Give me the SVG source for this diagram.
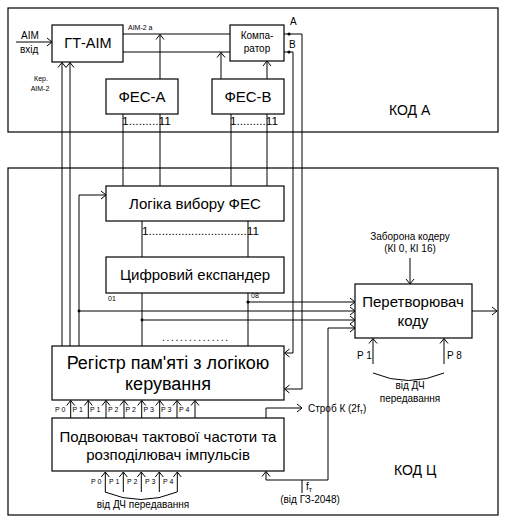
<svg xmlns="http://www.w3.org/2000/svg" width="505" height="523" viewBox="0 0 505 523">
<style>
.b{fill:#fff;stroke:#000;stroke-width:1.2}
.f{fill:none;stroke:#000;stroke-width:1.2}
.l{fill:none;stroke:#000;stroke-width:1}
.a{fill:none;stroke:#000;stroke-width:1;marker-end:url(#ah)}
text{font-family:"Liberation Sans",Arial,sans-serif;fill:#000}
.t15{font-size:15px;text-anchor:middle}
.t18{font-size:18px;text-anchor:middle}
.t14{font-size:14px}
.t10{font-size:10px}
.t10m{font-size:10px;text-anchor:middle}
.t7{font-size:7px}
.t7m{font-size:7px;text-anchor:middle}
</style>
<defs>
<marker id="ah" markerUnits="userSpaceOnUse" markerWidth="12" markerHeight="12" viewBox="-7 -6 8 12" refX="0" refY="0" orient="auto" overflow="visible">
<path d="M-5,-4 L0,0 L-5,4" fill="none" stroke="#000" stroke-width="1"/>
</marker>
</defs>
<rect width="505" height="523" fill="#fff"/>
<g id="regions">
<rect class="f" x="8" y="8" width="490" height="124"/>
<rect class="f" x="8" y="168" width="490" height="347"/>
<text class="t14" x="389" y="115">КОД А</text>
<text class="t14" x="394" y="475">КОД Ц</text>
</g>
<g id="connectors">
<path class="a" d="M16,42 H52"/>
<path class="l" d="M123,34 H230"/>
<path class="l" d="M123,52 H230"/>
<path class="a" d="M160,79 V34.5"/>
<path class="a" d="M221,79 V52.5"/>
<path class="a" d="M267,79 V61"/>
<path class="l" d="M123,114 V186"/>
<path class="l" d="M160,114 V186"/>
<path class="l" d="M231,114 V186"/>
<path class="l" d="M267,114 V186"/>
<path class="l" d="M284,34 H302 V389"/>
<path class="a" d="M302,389 H284.5"/>
<path class="l" d="M284,52 H293 V353"/>
<path class="a" d="M293,353 H284.5"/>
<path class="a" d="M62,346 V62.5"/>
<path class="a" d="M70,346 V62.5"/>
<path class="l" d="M79,346 V195"/>
<path class="a" d="M79,195 H106"/>
<path class="l" d="M142,221 V257"/>
<path class="l" d="M248,221 V257"/>
<path class="l" d="M142,293 V346"/>
<path class="l" d="M248,293 V346"/>
<path class="a" d="M248,302 H355"/>
<path class="a" d="M79,311 H355"/>
<path class="a" d="M142,320 H355"/>
<path class="l" d="M266,480 H328 V328"/>
<path class="a" d="M328,328 H355"/>
<path class="a" d="M266,480 V471.5"/>
<path class="l" d="M302,480 V493"/>
<path class="l" d="M266,418 V408"/>
<path class="a" d="M266,408 H302"/>
<path class="a" d="M410,258 V284"/>
<path class="a" d="M472,311 H497"/>
<path class="a" d="M373,364 V338.5"/>
<path class="a" d="M444,364 V338.5"/>
<path class="l" d="M373,373 Q408.5,388 444,373"/>
<path class="a" d="M70.7,418 V400.5"/>
<path class="a" d="M88.3,418 V400.5"/>
<path class="a" d="M106,418 V400.5"/>
<path class="a" d="M124,418 V400.5"/>
<path class="a" d="M141.7,418 V400.5"/>
<path class="a" d="M159.7,418 V400.5"/>
<path class="a" d="M177,418 V400.5"/>
<path class="a" d="M195,418 V400.5"/>
<path class="a" d="M105.3,492 V472"/>
<path class="a" d="M123.3,492 V472"/>
<path class="a" d="M141.3,492 V472"/>
<path class="a" d="M159.3,492 V472"/>
<path class="a" d="M177.3,492 V472"/>
<path class="l" d="M105,492 Q141,507 177,492"/>
<circle cx="289" cy="34" r="1.6"/>
<circle cx="289" cy="52" r="1.6"/>
<circle cx="248" cy="302" r="1.6"/>
<circle cx="79" cy="311" r="1.4"/>
<circle cx="142" cy="320" r="1.4"/>
</g>
<g id="gt-aim">
<rect class="b" x="52" y="25" width="71" height="37"/>
<text class="t15" x="88" y="48" style="font-size:14.5px">ГТ-АІМ</text>
</g>
<g id="comparator">
<rect class="b" x="230" y="25" width="54" height="36"/>
<text class="t10m" x="257" y="39">Компа-</text>
<text class="t10m" x="257" y="52">ратор</text>
</g>
<g id="fes-a">
<rect class="b" x="106" y="79" width="72" height="35"/>
<text class="t15" x="142" y="102">ФЕС-А</text>
</g>
<g id="fes-b">
<rect class="b" x="212" y="79" width="72" height="35"/>
<text class="t15" x="248" y="102">ФЕС-В</text>
</g>
<g id="logic">
<rect class="b" x="106" y="186" width="178" height="35"/>
<text class="t15" x="195" y="209">Логіка вибору ФЕС</text>
</g>
<g id="expander">
<rect class="b" x="106" y="257" width="178" height="36"/>
<text class="t15" x="195" y="280">Цифровий експандер</text>
</g>
<g id="register">
<rect class="b" x="52" y="346" width="232" height="54"/>
<text class="t18" x="168" y="369">Регістр пам'яті з логікою</text>
<text class="t18" x="168" y="390">керування</text>
</g>
<g id="doubler">
<rect class="b" x="52" y="418" width="232" height="53"/>
<text class="t15" x="168" y="442">Подвоювач тактової частоти та</text>
<text class="t15" x="168" y="460">розподілювач імпульсів</text>
</g>
<g id="converter">
<rect class="b" x="355" y="284" width="117" height="54"/>
<text class="t15" x="413" y="307">Перетворювач</text>
<text class="t15" x="413" y="326">коду</text>
</g>
<g id="labels">
<text class="t10" x="21" y="39">АІМ</text>
<text class="t10" x="20" y="53">вхід</text>
<text class="t7m" x="41" y="81">Кер.</text>
<text class="t7m" x="40" y="91">АІМ-2</text>
<text class="t7" x="128" y="30">АІМ-2 а</text>
<text class="t10" x="290" y="25">A</text>
<text class="t10" x="289" y="48">B</text>
<text class="t10" x="122" y="125" textLength="49" lengthAdjust="spacingAndGlyphs">1.........11</text>
<text class="t10" x="230" y="125" textLength="48" lengthAdjust="spacingAndGlyphs">1.........11</text>
<text class="t10" x="142" y="235" textLength="117" lengthAdjust="spacingAndGlyphs">1..............................11</text>
<text class="t7" x="108" y="301">01</text>
<text class="t7" x="251" y="298">08</text>
<text class="t10" x="162" y="341" textLength="66" lengthAdjust="spacing">...............</text>
<text class="t10m" x="410" y="240">Заборона кодеру</text>
<text class="t10m" x="410" y="252">(КІ 0, КІ 16)</text>
<text class="t10" x="357" y="359">P 1</text>
<text class="t10" x="447" y="359">P 8</text>
<text class="t10m" x="410" y="389">від ДЧ</text>
<text class="t10m" x="410" y="402">передавання</text>
<text class="t7" x="55" y="412">P 0</text>
<text class="t7" x="72.5" y="412">P 1</text>
<text class="t7" x="90" y="412">P 1</text>
<text class="t7" x="108" y="412">P 2</text>
<text class="t7" x="125.5" y="412">P 2</text>
<text class="t7" x="143.5" y="412">P 3</text>
<text class="t7" x="161" y="412">P 3</text>
<text class="t7" x="179" y="412">P 4</text>
<text class="t7" x="91" y="484">P 0</text>
<text class="t7" x="109" y="484">P 1</text>
<text class="t7" x="127" y="484">P 2</text>
<text class="t7" x="145" y="484">P 3</text>
<text class="t7" x="163" y="484">P 4</text>
<text class="t10m" x="143" y="508">від ДЧ передавання</text>
<text class="t10" x="308" y="412">Строб К (2f<tspan font-size="7" dy="2">т</tspan><tspan dy="-2">)</tspan></text>
<text class="t10" x="306" y="490">f<tspan font-size="7" dy="2">т</tspan></text>
<text class="t10m" x="310" y="503">(від ГЗ-2048)</text>
</g>
</svg>
